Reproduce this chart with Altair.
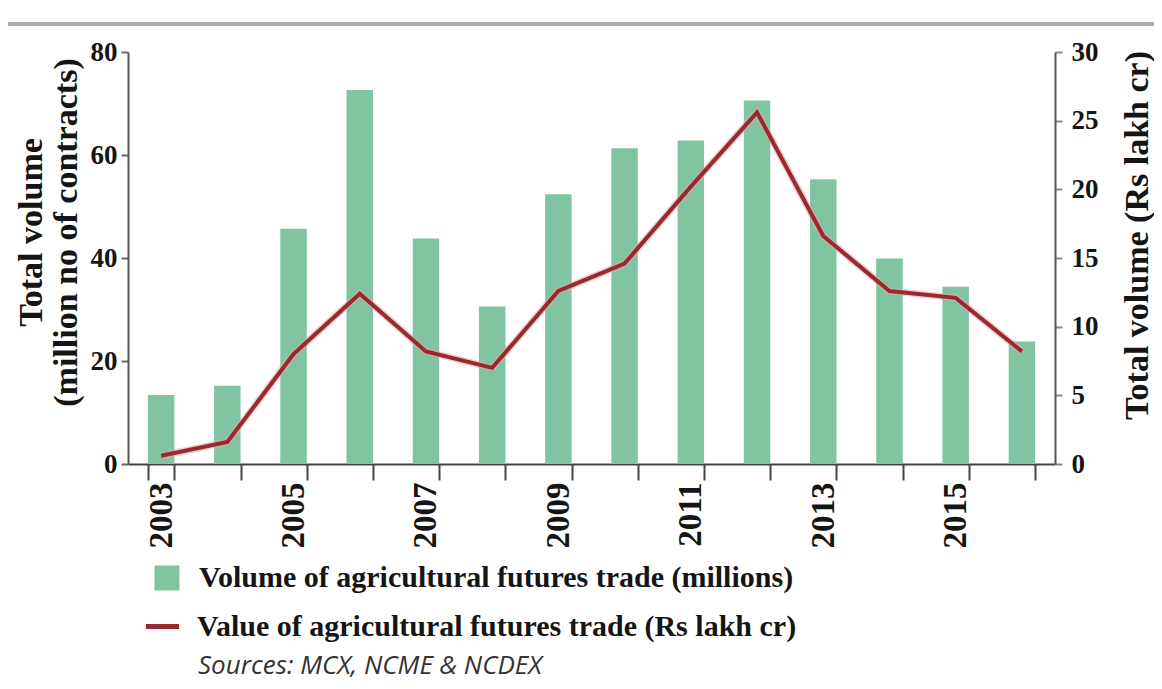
import altair as alt
import pandas as pd

years = ["2003", "2004", "2005", "2006", "2007", "2008", "2009",
         "2010", "2011", "2012", "2013", "2014", "2015", "2016"]
volume = [13.4, 15.2, 45.7, 72.6, 43.8, 30.6, 52.4, 61.3, 62.8, 70.6, 55.3, 39.9, 34.4, 23.8]
value = [0.6, 1.6, 8.0, 12.4, 8.2, 7.0, 12.6, 14.6, 20.2, 25.6, 16.6, 12.6, 12.1, 8.2]

bar_label = "Volume of agricultural futures trade (millions)"
line_label = "Value of agricultural futures trade (Rs lakh cr)"
left_title = ["Total volume", "(million no of contracts)"]
right_title = "Total volume (Rs lakh cr)"
source_text = "Sources: MCX, NCME & NCDEX"

GREEN = "#80c4a2"
RED = "#962a2e"
SERIF = "Liberation Serif"
INK = "#151515"

df = pd.DataFrame({
    "year": years,
    "volume": volume,
    "value": value,
    "bar_series": [bar_label] * len(years),
    "line_series": [line_label] * len(years),
})

x_enc = alt.X(
    "year:N",
    sort=years,
    scale=alt.Scale(paddingInner=0.6, paddingOuter=0.3),
    axis=alt.Axis(
        title=None,
        tickBand="extent",
        labelAngle=270,
        labelExpr="toNumber(datum.value) % 2 == 1 ? datum.value : ''",
        labelFont=SERIF, labelFontWeight="bold", labelFontSize=33, labelColor=INK,
        labelPadding=2,
        tickSize=16, tickWidth=2, tickColor="#444444",
        domainColor="#444444", domainWidth=2,
        grid=False,
    ),
)

bars = alt.Chart(df).mark_bar(color=GREEN).encode(
    x=x_enc,
    y=alt.Y(
        "volume:Q",
        scale=alt.Scale(domain=[0, 80]),
        axis=alt.Axis(
            values=[0, 20, 40, 60, 80],
            title=left_title,
            titleFont=SERIF, titleFontWeight="bold", titleFontSize=34, titleColor=INK,
            titleAngle=270, titleAlign="center", titleBaseline="middle",
            titleLineHeight=35, titleX=-97, titleY=180,
            labelFont=SERIF, labelFontWeight="bold", labelFontSize=27, labelColor=INK,
            labelPadding=4, tickSize=7, tickWidth=2, tickColor="#666666",
            domainColor="#555555", domainWidth=2, grid=False,
        ),
    ),
    color=alt.Color(
        "bar_series:N",
        scale=alt.Scale(range=[GREEN]),
        legend=alt.Legend(
            title=None, orient="none", legendX=24, legendY=511, padding=0,
            symbolType="square", symbolSize=625, symbolStrokeWidth=0, symbolOpacity=1,
            labelFont=SERIF, labelFontWeight="bold", labelFontSize=30, labelColor=INK,
            labelOffset=17, labelLimit=900,
        ),
    ),
)

halo = alt.Chart(df).mark_line(strokeWidth=7, color="#e9a9a9", opacity=0.6).encode(
    x=alt.X("year:N", sort=years),
    y=alt.Y("value:Q", scale=alt.Scale(domain=[0, 30]), axis=None),
)

line = alt.Chart(df).mark_line(strokeWidth=4).encode(
    x=alt.X("year:N", sort=years),
    y=alt.Y(
        "value:Q",
        scale=alt.Scale(domain=[0, 30]),
        axis=alt.Axis(
            orient="right",
            values=[0, 5, 10, 15, 20, 25, 30],
            title=right_title,
            titleFont=SERIF, titleFontWeight="bold", titleFontSize=34, titleColor=INK,
            titleAngle=270, titleAlign="center", titleBaseline="middle",
            titleX=82, titleY=183,
            labelFont=SERIF, labelFontWeight="bold", labelFontSize=27, labelColor=INK,
            labelPadding=9, tickSize=7, tickWidth=2, tickColor="#888888",
            domainColor="#555555", domainWidth=2, grid=False,
        ),
    ),
    stroke=alt.Stroke(
        "line_series:N",
        scale=alt.Scale(range=[RED]),
        legend=alt.Legend(
            title=None, orient="none", legendX=15, legendY=555, padding=0,
            symbolType="stroke", symbolSize=1100, symbolStrokeWidth=5,
            labelFont=SERIF, labelFontWeight="bold", labelFontSize=30, labelColor=INK,
            labelOffset=15, labelLimit=900,
        ),
    ),
)

top_rule = alt.Chart(pd.DataFrame({"k": [0]})).mark_rule(
    color="#aaaaaa", strokeWidth=4
).encode(x=alt.value(-123), x2=alt.value(1040), y=alt.value(-28))

source = alt.Chart(pd.DataFrame({"t": [source_text]})).mark_text(
    align="left", baseline="alphabetic", font="Open Sans", fontStyle="italic",
    fontSize=26, color="#333333",
).encode(x=alt.value(70), y=alt.value(622), text="t:N")

chart = alt.layer(bars, halo, line, top_rule, source).resolve_scale(
    y="independent", color="independent", stroke="independent"
).properties(
    width=927, height=412,
    autosize=alt.AutoSizeParams(type="none"),
    padding={"left": 120, "top": 44, "right": 99, "bottom": 217},
).configure_view(stroke=None)

chart.save("out.html", embed_options={"renderer": "svg", "actions": False})
